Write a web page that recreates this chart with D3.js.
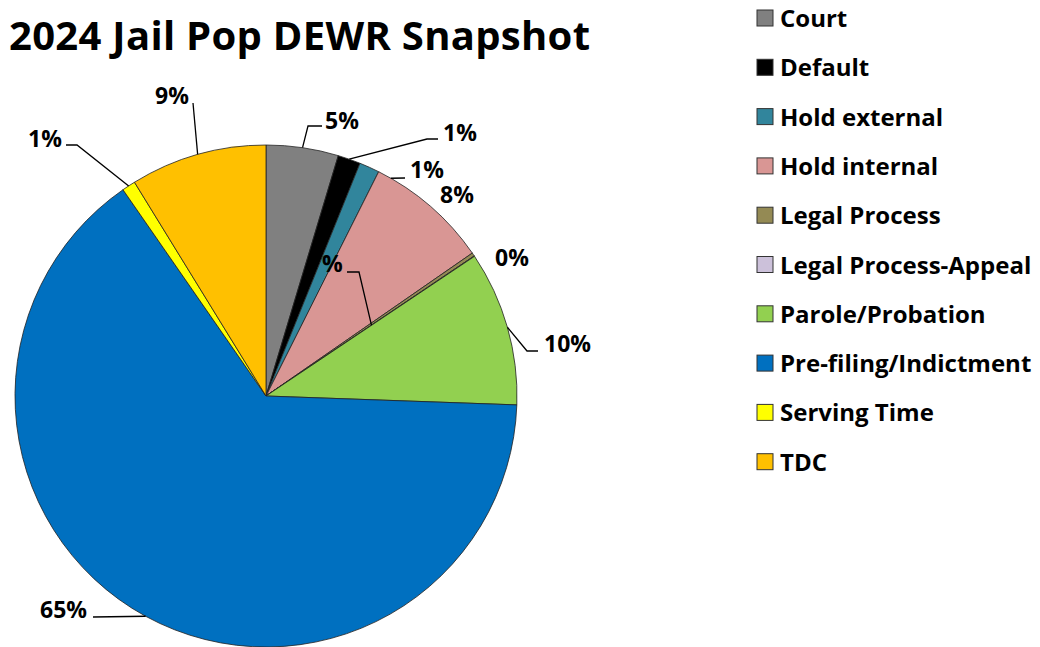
<!DOCTYPE html>
<html>
<head>
<meta charset="utf-8">
<script src="https://cdn.jsdelivr.net/npm/d3@7"></script>
<style>
  body { margin: 0; background: #fff; }
  text { font-family: "Open Sans", Lato, sans-serif; font-weight: bold; fill: #000; }
</style>
</head>
<body>
<div id="chart"></div>
<script>
// chart data (share of 2024 jail population, in %)
var categories = ["Court", "Default", "Hold external", "Hold internal", "Legal Process",
  "Legal Process-Appeal", "Parole/Probation", "Pre-filing/Indictment", "Serving Time", "TDC"];
var values = [4.65, 1.46, 1.3, 7.95, 0.22, 0.03, 9.96, 64.8, 0.87, 8.78];
var colors = ["#808080", "#000000", "#31859C", "#D99694", "#948A54",
  "#CCC1DA", "#92D050", "#0070C0", "#FFFF00", "#FFC000"];

var svgWidth = 1040;
var svgHeight = 647;

var cx = 266, cy = 396, radius = 251;

var svg = d3.select("#chart")
  .append("svg")
  .attr("width", svgWidth)
  .attr("height", svgHeight);

// title
svg.append("text")
  .attr("x", 9)
  .attr("y", 50)
  .attr("font-size", "40px")
  .attr("letter-spacing", "0.3px")
  .text("2024 Jail Pop DEWR Snapshot");

var pie = d3.pie().sort(null).value(d => d);
var arcs = pie(values);
var arc = d3.arc().innerRadius(0).outerRadius(radius);

var pieGroup = svg.append("g")
  .attr("transform", `translate(${cx}, ${cy})`);

pieGroup.selectAll("path")
  .data(arcs)
  .enter()
  .append("path")
  .attr("d", arc)
  .attr("fill", (d, i) => colors[i])
  .attr("stroke", "#222")
  .attr("stroke-width", 0.8);

// label layout: text start point (x, middle y) and leader elbows, in page coords
// rimFrac = where the leader meets the slice (fraction of radius), angOff = degrees nudge
var labelLayout = [
  { x: 325, y: 120, text: null, elbows: [[322, 126], [308, 126]], rimFrac: 1 },
  { x: 443, y: 132, text: null, elbows: [[438, 139], [427, 139]], rimFrac: 1 },
  { x: 410, y: 169, text: null, elbows: [[405, 178]], rimFrac: 1, angOff: 5.5 },
  { x: 440, y: 194, text: null, elbows: null },
  { x: 495, y: 257, text: null, elbows: null },
  { x: 322, y: 263, text: "%", elbows: [[347, 272], [359, 272]], rimFrac: 0.506 },
  { x: 544, y: 343, text: null, elbows: [[538, 351], [527, 351]], rimFrac: 1 },
  { x: 40, y: 609, text: null, elbows: [[93, 617]], rimFrac: 1 },
  { x: 28, y: 138, text: null, elbows: [[66, 145], [77, 145]], rimFrac: 1 },
  { x: 155, y: 95, text: null, elbows: [[193, 103]], rimFrac: 1 }
];

var total = d3.sum(values);
var line = d3.line();

arcs.forEach(function(d, i) {
  var lay = labelLayout[i];
  var label = lay.text || Math.round(d.value / total * 100) + "%";

  if (lay.elbows) {
    var mid = (d.startAngle + d.endAngle) / 2 + (lay.angOff || 0) * Math.PI / 180;
    var r = radius * lay.rimFrac;
    var rim = [cx + r * Math.sin(mid), cy - r * Math.cos(mid)];
    svg.append("path")
      .attr("d", line(lay.elbows.concat([rim])))
      .attr("fill", "none")
      .attr("stroke", "#000")
      .attr("stroke-width", 1.3);
  }

  svg.append("text")
    .attr("x", lay.x)
    .attr("y", lay.y + 8.5)
    .attr("font-size", "23px")
    .text(label);
});

// legend
var legendGroup = svg.append("g")
  .attr("transform", "translate(757, 18)");

var legendRow = legendGroup.selectAll("g")
  .data(categories)
  .enter()
  .append("g")
  .attr("transform", (d, i) => `translate(0, ${i * 49.3})`);

legendRow.append("rect")
  .attr("x", 0)
  .attr("y", -8)
  .attr("width", 16)
  .attr("height", 16)
  .attr("fill", (d, i) => colors[i])
  .attr("stroke", "#333")
  .attr("stroke-width", 1);

legendRow.append("text")
  .attr("x", 23)
  .attr("y", 9)
  .attr("font-size", "24px")
  .text(d => d);
</script>
</body>
</html>
